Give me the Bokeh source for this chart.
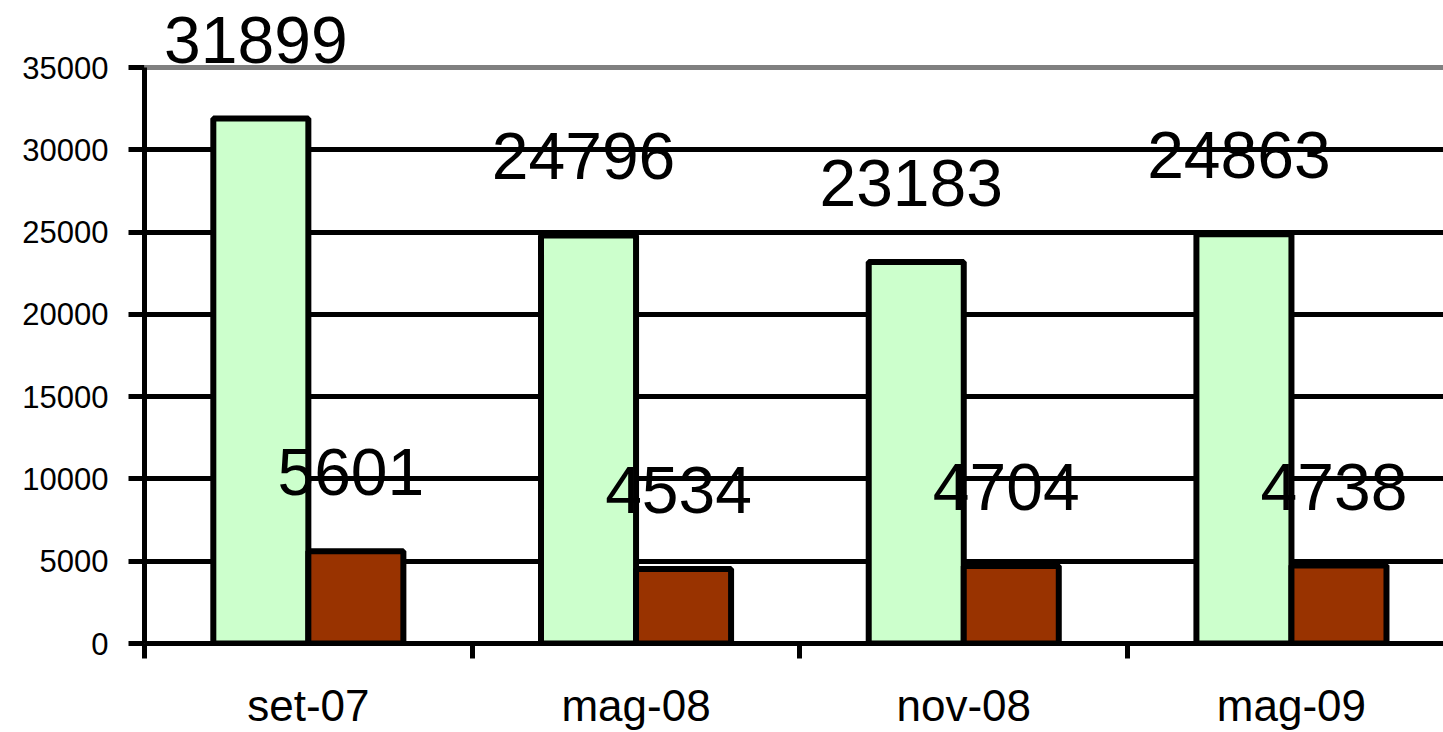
from bokeh.plotting import figure
from bokeh.models import (ColumnDataSource, Range1d, FixedTicker, LabelSet, Span)
from bokeh.core.properties import value
from bokeh.embed import file_html
from bokeh.resources import INLINE

# Survey periods and the two series per period
periods = ["set-07", "mag-08", "nov-08", "mag-09"]
series_a = [31899, 24796, 23183, 24863]
series_b = [5601, 4534, 4704, 4738]
y_ticks = [0, 5000, 10000, 15000, 20000, 25000, 30000, 35000]

FONT = "Liberation Sans"
GREEN = "#CCFFCC"
BROWN = "#993300"
BAR_W = 0.29
OFF = 0.145

# value axis occupies 576 px for 0..35000; the frame runs 67 px higher so
# value labels above the tallest bar stay inside it
Y_MAX = y_ticks[-1]
Y_TOP = Y_MAX * 643 / 576

centers = [i + 0.5 for i in range(len(periods))]
src_a = ColumnDataSource(dict(x=[c - OFF for c in centers], top=series_a,
                              lab=[str(v) for v in series_a]))
src_b = ColumnDataSource(dict(x=[c + OFF for c in centers], top=series_b,
                              lab=[str(v) for v in series_b]))

p = figure(width=1443, height=732, output_backend="svg", toolbar_location=None,
           x_range=Range1d(0, 3.964), y_range=Range1d(0, Y_TOP),
           min_border_left=144, min_border_right=0, min_border_top=0,
           min_border_bottom=89)
p.outline_line_color = None
p.background_fill_color = "white"
p.border_fill_color = "white"

# horizontal gridlines
p.xgrid.visible = False
p.ygrid.ticker = FixedTicker(ticks=y_ticks[1:-1])
p.ygrid.grid_line_color = "black"
p.ygrid.grid_line_width = 5
p.add_layout(Span(location=Y_MAX, dimension="width", line_color="#808080",
                  line_width=5, level="underlay"))

p.vbar(x="x", top="top", width=BAR_W, source=src_a, fill_color=GREEN,
       line_color="black", line_width=6)
p.vbar(x="x", top="top", width=BAR_W, source=src_b, fill_color=BROWN,
       line_color="black", line_width=6)

for src in (src_a, src_b):
    p.add_layout(LabelSet(x="x", y="top", text="lab", source=src,
                          x_offset=-5, y_offset=56, text_align="center",
                          text_baseline="alphabetic", text_font=value(FONT),
                          text_font_size=value("66px"), text_color="black"))

# y axis
ya = p.yaxis[0]
ya.ticker = FixedTicker(ticks=y_ticks)
ya.bounds = (0, Y_MAX)
ya.axis_line_width = 5
ya.axis_line_color = "black"
ya.major_tick_line_width = 5
ya.major_tick_in = 0
ya.major_tick_out = 16
ya.minor_tick_line_color = None
ya.major_label_standoff = 20
ya.major_label_text_font = FONT
ya.major_label_text_font_size = "31px"
ya.major_label_text_color = "black"

# x axis: labels at period centres, ticks on period boundaries
xa = p.xaxis[0]
xa.ticker = FixedTicker(ticks=centers, minor_ticks=list(range(len(periods))))
xa.major_label_overrides = {c: lab for c, lab in zip(centers, periods)}
xa.axis_line_width = 5
xa.axis_line_color = "black"
xa.major_tick_in = 0
xa.major_tick_out = 0
xa.minor_tick_in = 0
xa.minor_tick_out = 15
xa.minor_tick_line_width = 5
xa.minor_tick_line_color = "black"
xa.major_label_standoff = 22
xa.major_label_text_font = FONT
xa.major_label_text_font_size = "44px"
xa.major_label_text_color = "black"

open("out.html", "w").write(file_html(p, INLINE))
